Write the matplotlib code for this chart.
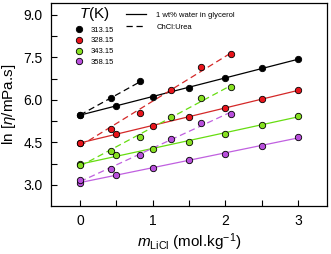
import numpy as np
import matplotlib.pyplot as plt
from matplotlib.lines import Line2D

plt.rcParams['font.family'] = ['Liberation Sans', 'DejaVu Sans']
plt.rcParams['mathtext.fontset'] = 'custom'
plt.rcParams['mathtext.rm'] = 'Liberation Sans'
plt.rcParams['mathtext.it'] = 'Liberation Sans:italic'

#
# data
temps = ['313.15', '328.15', '343.15', '358.15']
colors = ['#000000', '#e8141b', '#86e020', '#b84fdc']
line_colors = ['#000000', '#d42828', '#66dd10', '#c060e0']

m_gly = [0, 0.5, 1.0, 1.5, 2.0, 2.5, 3.0]
gly_313 = [5.47, 5.80, 6.11, 6.43, 6.76, 7.11, 7.45]
gly_328 = [4.49, 4.80, 5.07, 5.40, 5.70, 6.04, 6.34]
gly_343 = [3.74, 4.04, 4.27, 4.52, 4.81, 5.12, 5.44]
gly_358 = [3.08, 3.36, 3.60, 3.86, 4.10, 4.36, 4.70]

m_urea = [0, 0.42, 0.83, 1.25, 1.67, 2.08]
urea_313 = [5.47, 6.05, 6.65]
urea_328 = [4.49, 4.96, 5.55, 6.34, 7.17, 7.61]
urea_343 = [3.71, 4.21, 4.69, 5.39, 6.07, 6.45]
urea_358 = [3.17, 3.54, 4.04, 4.60, 5.20, 5.51]

gly = [gly_313, gly_328, gly_343, gly_358]
urea = [urea_313, urea_328, urea_343, urea_358]


fig = plt.figure(figsize=(3.31, 2.54), dpi=100)
ax = fig.add_axes([0.154, 0.189, 0.834, 0.80])

for i in range(4):
    # glycerol: linear fit + points
    x = np.array(m_gly)
    y = np.array(gly[i])
    p = np.polyfit(x, y, 1)
    xf = np.array([x[0], x[-1]])
    ax.plot(xf, np.polyval(p, xf), '-', color=line_colors[i], lw=0.9, zorder=2)
    ax.plot(x, y, 'o', mfc=colors[i], mec='black', mew=0.6, ms=4.6, zorder=3)

    # ChCl:Urea: linear fit + points
    y = np.array(urea[i])
    x = np.array(m_urea[:len(y)])
    p = np.polyfit(x, y, 1)
    xf = np.array([x[0], x[-1]])
    ax.plot(xf, np.polyval(p, xf), color=line_colors[i], lw=0.9,
            linestyle=(0, (5, 3)), zorder=2)
    ax.plot(x, y, 'o', mfc=colors[i], mec='black', mew=0.6, ms=4.6, zorder=3)

ax.set_xlim(-0.4, 3.4)
ax.set_ylim(2.25, 9.43)
ax.set_xticks([0, 1, 2, 3])
ax.set_xticklabels(['0', '1', '2', '3'])
ax.set_xticks(np.arange(0, 3.01, 0.5), minor=True)
ax.set_yticks([3.0, 4.5, 6.0, 7.5, 9.0])
ax.set_yticks(np.arange(3.0, 9.01, 0.75), minor=True)
ax.tick_params(which='both', direction='in', length=4, width=0.8,
               labelsize=10, pad=6)
for s in ax.spines.values():
    s.set_linewidth(0.9)

ax.set_xlabel(r'$m_{\rm LiCl}$ (mol.kg$^{-1}$)', fontsize=11, labelpad=2)
ax.set_ylabel(r'ln [$\eta$/mPa.s]', fontsize=11, labelpad=4)

#
# legends
h1 = [Line2D([], [], ls='none', marker='o', mfc=c, mec='black', mew=0.6, ms=4.6)
      for c in colors]
leg1 = ax.legend(h1, temps, title='$T$(K)', loc='upper left',
                 bbox_to_anchor=(0.066, 1.02), frameon=False, fontsize=5.5,
                 title_fontsize=11, handlelength=1.0, handletextpad=1.0,
                 labelspacing=0.45, borderpad=0.3)
ax.add_artist(leg1)

h2 = [Line2D([], [], color='black', lw=0.9, ls='-'),
      Line2D([], [], color='black', lw=0.9, ls=(0, (5, 3)))]
ax.legend(h2, ['1 wt% water in glycerol', 'ChCl:Urea'], loc='upper left',
          bbox_to_anchor=(0.246, 0.99), frameon=False, fontsize=5.5,
          handlelength=2.6, handletextpad=1.4, labelspacing=0.6)

fig.savefig('out.png', dpi=100)
plt.close()
